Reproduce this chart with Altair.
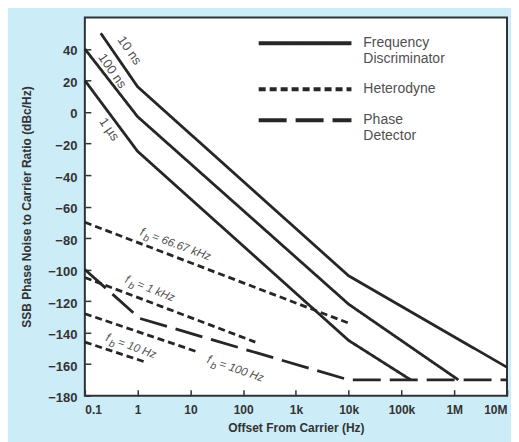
import altair as alt
import pandas as pd

# ---- data ----
# Frequency discriminator curves (solid)
fd_10ns_x = [0.2, 1, 1e4, 1e7]
fd_10ns_y = [50, 16, -104, -162]
fd_100ns_x = [0.1, 1, 1e4, 1.2e6]
fd_100ns_y = [40, -3, -122, -170]
fd_1us_x = [0.1, 1, 1e4, 1.5e5]
fd_1us_y = [20, -25, -145, -170]
# Heterodyne curves (short dash)
het_66k_x = [0.1, 1e4]
het_66k_y = [-70, -134]
het_1k_x = [0.1, 170]
het_1k_y = [-105, -146]
het_100_x = [0.1, 13]
het_100_y = [-128, -152]
het_10_x = [0.1, 1.5]
het_10_y = [-146, -159]
# Phase detector (long dash)
pd_x = [0.1, 1.1, 1e4, 1e7]
pd_y = [-100, -131, -170, -170]

methods = ["Frequency Discriminator", "Heterodyne", "Phase Detector"]

curves = [
    ("fd10", methods[0], fd_10ns_x, fd_10ns_y),
    ("fd100", methods[0], fd_100ns_x, fd_100ns_y),
    ("fd1u", methods[0], fd_1us_x, fd_1us_y),
    ("h66", methods[1], het_66k_x, het_66k_y),
    ("h1k", methods[1], het_1k_x, het_1k_y),
    ("h100", methods[1], het_100_x, het_100_y),
    ("h10", methods[1], het_10_x, het_10_y),
    ("pd", methods[2], pd_x, pd_y),
]
rows = []
for cid, m, xs, ys in curves:
    for i, (a, b) in enumerate(zip(xs, ys)):
        rows.append({"curve": cid, "method": m, "f": a, "v": b, "i": i})
df = pd.DataFrame(rows)

# delay labels on discriminator lines
delay_text = ["10 ns", "100 ns", "1 \u00b5s"]
delay_x = [0.7, 0.33, 0.29]
delay_y = [39, 26, -11]
delay_df = pd.DataFrame({"f": delay_x, "v": delay_y, "t": delay_text})

# beat-frequency labels on heterodyne lines
fb_text = ["= 66.67 kHz", "= 1 kHz", "= 10 Hz", "= 100 Hz"]
fb_x = [1.07, 0.56, 0.24, 20]
fb_y = [-78, -108, -145, -159]
fb_angle = [20, 22, 20, 19]
fb_df = pd.DataFrame({"f": fb_x, "v": fb_y, "t": fb_text, "a": fb_angle})

x_ticks = [0.1, 1, 10, 100, 1e3, 1e4, 1e5, 1e6, 1e7]
y_ticks = list(range(-180, 41, 20))

ink = "#262626"
xscale = alt.Scale(type="log", domain=[0.1, 1e7])
yscale = alt.Scale(domain=[-180, 60])

x_axis = alt.Axis(
    values=x_ticks, offset=-6, tickSize=6, domain=False, grid=False,
    labelFlush=True, labelPadding=9, labelOverlap=False,
    labelExpr="datum.value >= 1e6 ? format(datum.value/1e6, 'd') + 'M' : datum.value >= 1e3 ? format(datum.value/1e3, 'd') + 'k' : datum.value < 1 ? '0.1' : format(datum.value, 'd')",
    title="Offset From Carrier (Hz)", titlePadding=7)
y_axis = alt.Axis(
    values=y_ticks, offset=-6, tickSize=6, domain=False, grid=False,
    labelPadding=8, labelOffset=2, labelOverlap=False, labelFontSize=13,
    title="SSB Phase Noise to Carrier Ratio (dBc/Hz)", titlePadding=14)

x_enc = alt.X("f:Q", scale=xscale, axis=x_axis)
y_enc = alt.Y("v:Q", scale=yscale, axis=y_axis)

lines = alt.Chart(df).mark_line(color=ink, strokeWidth=2.8).encode(
    x=x_enc,
    y=y_enc,
    detail="curve:N",
    order="i:Q",
    strokeDash=alt.StrokeDash("method:N", scale=alt.Scale(
        domain=methods, range=[[1, 0], [7, 4], [28, 9]]),
        legend=alt.Legend(orient="none", legendX=172, legendY=18, title=None,
                          symbolType="M-1,0H15", symbolSize=135, symbolStrokeWidth=4,
                          symbolStrokeColor=ink, labelFontSize=14, labelColor="#505050",
                          labelFont="Liberation Sans", labelOffset=91, rowPadding=15,
                          padding=0, labelLimit=200,
                          labelExpr="split(datum.label, ' ')")),
)

delay_lbl = alt.Chart(delay_df).mark_text(
    angle=55, fontSize=13, color="#505050", font="Liberation Sans", align="center", baseline="middle"
).encode(x=x_enc, y=y_enc, text="t:N")

fb_f = alt.Chart(fb_df).mark_text(
    fontSize=12, fontStyle="italic", color="#505050", font="Liberation Sans", align="left", baseline="alphabetic"
).encode(x=x_enc, y=y_enc, angle=alt.Angle("a:Q", scale=None), text=alt.value("f"))
fb_b = alt.Chart(fb_df).mark_text(
    fontSize=10, fontStyle="italic", color="#505050", font="Liberation Sans", align="left", baseline="alphabetic", dx=5, dy=4
).encode(x=x_enc, y=y_enc, angle=alt.Angle("a:Q", scale=None), text=alt.value("b"))
fb_rest = alt.Chart(fb_df).mark_text(
    fontSize=11.5, fontStyle="italic", color="#505050", font="Liberation Sans", align="left", baseline="alphabetic", dx=13
).encode(x=x_enc, y=y_enc, angle=alt.Angle("a:Q", scale=None), text="t:N")

chart = alt.layer(lines, delay_lbl, fb_f, fb_b, fb_rest).properties(
    width=423, height=379,
    padding={"left": 77, "top": 9, "right": 4, "bottom": 46},
    autosize=alt.AutoSizeParams(type="none"),
    background="#ccecf7",
).configure_view(
    stroke="#2e3436", strokeWidth=2, fill="white"
).configure_axis(
    labelFont="Liberation Sans", labelFontSize=12, labelFontWeight="bold", labelColor="#333",
    titleFont="Liberation Sans", titleFontSize=12, titleFontWeight="bold", titleColor="#333",
    tickColor="#333", tickWidth=1.5,
)

chart.save("out.html", embed_options={"renderer": "svg", "actions": False})
